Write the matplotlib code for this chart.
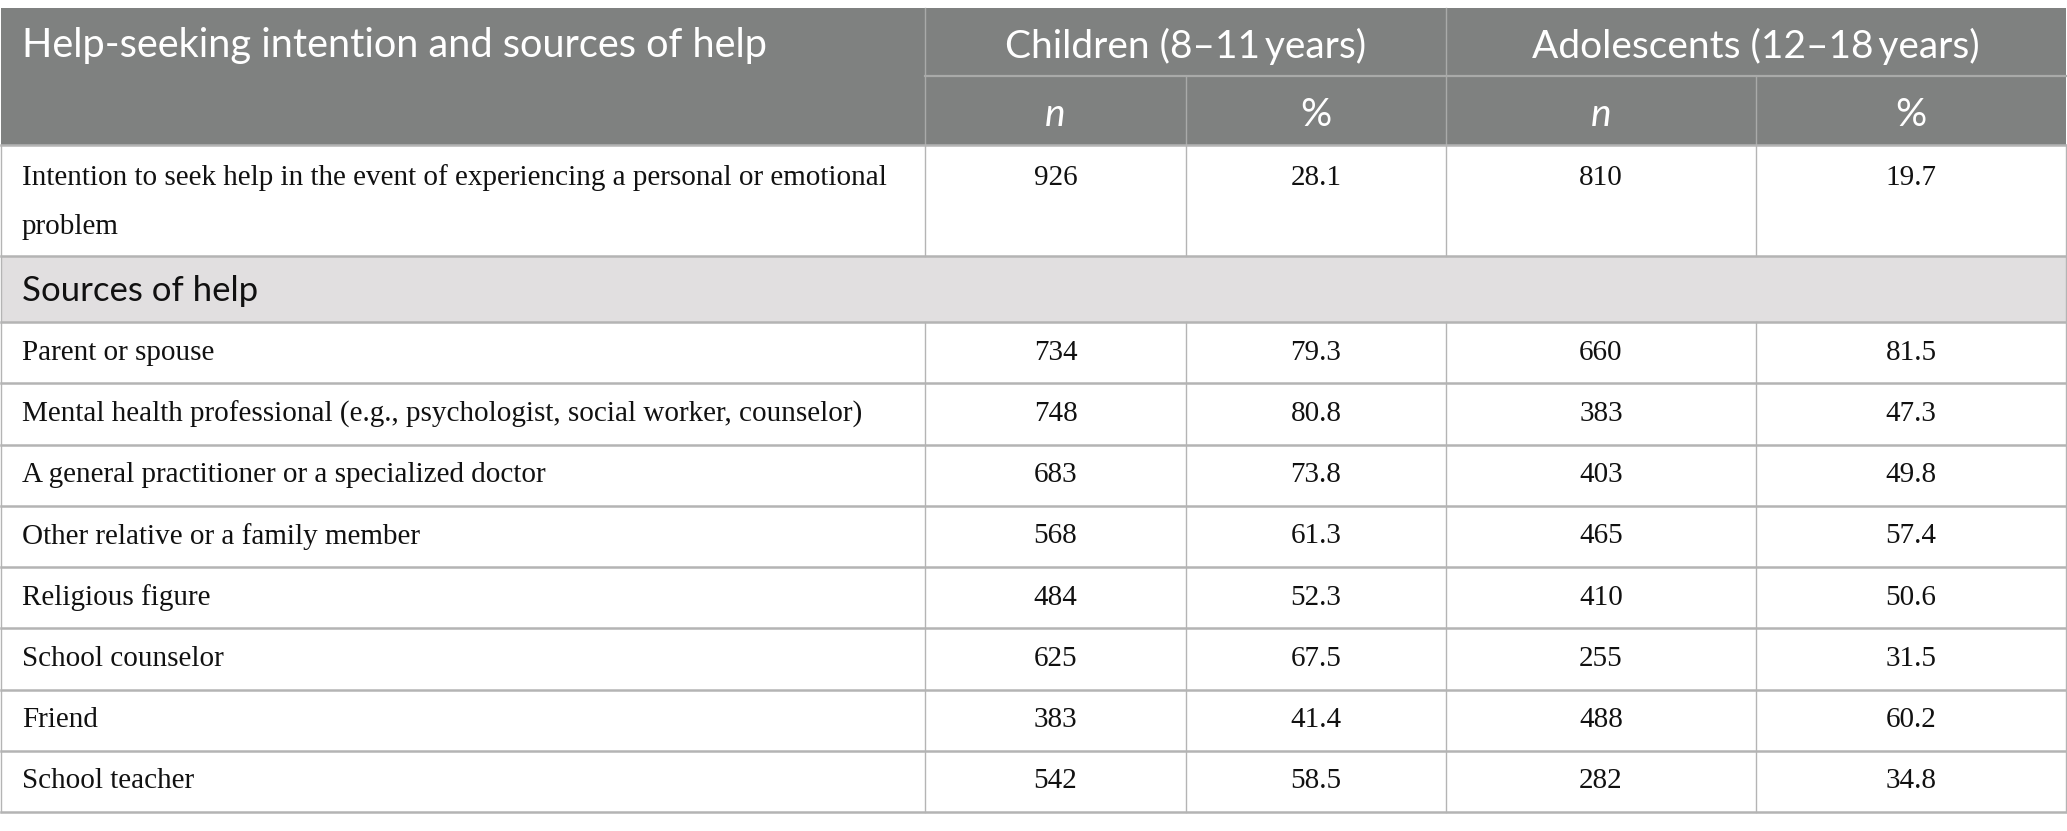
import matplotlib.pyplot as plt
from matplotlib.patches import Rectangle

# table content
header_title = "Help-seeking intention and sources of help"
group_labels = ["Children (8\u201311\u2009years)", "Adolescents (12\u201318\u2009years)"]
sub_labels = ["n", "%", "n", "%"]

intention_label = ["Intention to seek help in the event of experiencing a personal or emotional",
                   "problem"]
intention_values = ["926", "28.1", "810", "19.7"]

section_label = "Sources of help"

sources = [
    "Parent or spouse",
    "Mental health professional (e.g., psychologist, social worker, counselor)",
    "A general practitioner or a specialized doctor",
    "Other relative or a family member",
    "Religious figure",
    "School counselor",
    "Friend",
    "School teacher",
]
children_n = [734, 748, 683, 568, 484, 625, 383, 542]
children_pct = [79.3, 80.8, 73.8, 61.3, 52.3, 67.5, 41.4, 58.5]
adolescents_n = [660, 383, 403, 465, 410, 255, 488, 282]
adolescents_pct = [81.5, 47.3, 49.8, 57.4, 50.6, 31.5, 60.2, 34.8]

# layout in pixels
W, H = 2067, 831
col_x = [1, 925, 1186, 1446, 1756, 2066]
top = 8
head1 = 76
head2 = 145
intent_bottom = 256
section_bottom = 322
row_h = 61.25

HEAD_BG = "#7f8180"
SECTION_BG = "#e1dfe0"
LINE = "#b4b4b4"
HEAD_LINE = "#a9aaa9"
SANS = ["Lato", "DejaVu Sans"]
SERIF = ["Liberation Serif", "DejaVu Serif"]

fig = plt.figure(figsize=(W / 100, H / 100), dpi=100)
ax = fig.add_axes([0, 0, 1, 1])
ax.set_xlim(0, W)
ax.set_ylim(H, 0)
ax.axis("off")

# header background
ax.add_patch(Rectangle((col_x[0], top), col_x[-1] - col_x[0], head2 - top,
                       facecolor=HEAD_BG, edgecolor="none"))
# section row background
ax.add_patch(Rectangle((col_x[0], intent_bottom), col_x[-1] - col_x[0],
                       section_bottom - intent_bottom, facecolor=SECTION_BG, edgecolor="none"))

# header lines
ax.plot([col_x[1], col_x[-1]], [head1, head1], color=HEAD_LINE, lw=1.6)
for x in [col_x[1], col_x[3]]:
    ax.plot([x, x], [top, head2], color=HEAD_LINE, lw=1.0)
for x in [col_x[2], col_x[4]]:
    ax.plot([x, x], [head1, head2], color=HEAD_LINE, lw=1.0)

head_fs = 28
# header text
ax.text(22, (top + head1) / 2 + 4, header_title, color="white", fontsize=28.6,
        family=SANS, va="center", ha="left")
for i, lab in enumerate(group_labels):
    cx = (col_x[1 + 2 * i] + col_x[3 + 2 * i]) / 2
    ax.text(cx, (top + head1) / 2 + 4, lab, color="white", fontsize=head_fs,
            family=SANS, va="center", ha="center")
for i, lab in enumerate(sub_labels):
    cx = (col_x[1 + i] + col_x[2 + i]) / 2
    ax.text(cx, (head1 + head2) / 2 + 4, lab, color="white", fontsize=head_fs,
            family=SANS, va="center", ha="center",
            style="italic" if lab == "n" else "normal")

# body rows
bottoms = [intent_bottom, section_bottom]
bottoms += [section_bottom + row_h * (k + 1) for k in range(len(sources))]
table_bottom = bottoms[-1]

# horizontal lines
for y in [head2] + bottoms:
    ax.plot([col_x[0], col_x[-1]], [y, y], color=LINE, lw=1.8)
# outer vertical lines
for x in [col_x[0], col_x[-1]]:
    ax.plot([x, x], [head2, table_bottom], color=LINE, lw=1.0)
# inner vertical lines (not through the section row)
for x in col_x[1:-1]:
    ax.plot([x, x], [head2, intent_bottom], color=LINE, lw=1.0)
    ax.plot([x, x], [section_bottom, table_bottom], color=LINE, lw=1.0)

body_fs = 21
# intention row
ax.text(22, 178, intention_label[0], fontsize=body_fs, family=SERIF,
        va="center", ha="left", color="#111111")
ax.text(22, 227, intention_label[1], fontsize=body_fs, family=SERIF,
        va="center", ha="left", color="#111111")
for i, v in enumerate(intention_values):
    cx = (col_x[1 + i] + col_x[2 + i]) / 2
    ax.text(cx, 178, v, fontsize=body_fs, family=SERIF, va="center",
            ha="center", color="#111111")

# section row
ax.text(22, (intent_bottom + section_bottom) / 2 + 2, section_label, fontsize=25,
        family=SANS, va="center", ha="left", color="#111111")

# source rows
for k, name in enumerate(sources):
    cy = section_bottom + row_h * (k + 0.5)
    ax.text(22, cy, name, fontsize=body_fs, family=SERIF, va="center",
            ha="left", color="#111111")
    vals = [str(children_n[k]), f"{children_pct[k]:.1f}",
            str(adolescents_n[k]), f"{adolescents_pct[k]:.1f}"]
    for i, v in enumerate(vals):
        cx = (col_x[1 + i] + col_x[2 + i]) / 2
        ax.text(cx, cy, v, fontsize=body_fs, family=SERIF, va="center",
                ha="center", color="#111111")

fig.savefig("out.png", dpi=100, facecolor="white")
